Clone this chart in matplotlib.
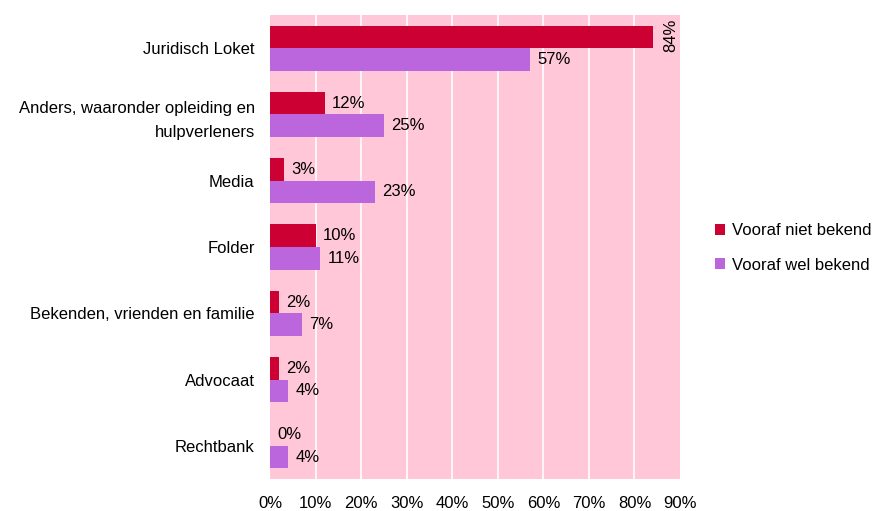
import matplotlib
matplotlib.use('Agg')
import matplotlib.pyplot as plt
import numpy as np

plt.rcParams['font.family'] = ['Liberation Sans', 'DejaVu Sans']

categories = ['Juridisch Loket', 'Anders, waaronder opleiding en\nhulpverleners', 'Media',
              'Folder', 'Bekenden, vrienden en familie', 'Advocaat', 'Rechtbank']
niet_bekend = [84, 12, 3, 10, 2, 2, 0]
wel_bekend = [57, 25, 23, 11, 7, 4, 4]
series_names = ['Vooraf niet bekend', 'Vooraf wel bekend']
xticks = [0, 10, 20, 30, 40, 50, 60, 70, 80, 90]

RED = '#CC0033'
PURPLE = '#BB66DD'
PINK = '#FFC7D8'
FS = 12

fig = plt.figure(figsize=(8.73, 5.11), dpi=100)
ax = fig.add_axes([270 / 873, 1 - 479 / 511, 410 / 873, 464 / 511])
ax.set_facecolor(PINK)

y = np.arange(len(categories))
h = 0.34
ax.barh(y - h / 2, niet_bekend, height=h, color=RED, label=series_names[0], zorder=3)
ax.barh(y + h / 2, wel_bekend, height=h, color=PURPLE, label=series_names[1], zorder=3)

for xv in xticks[1:-1]:
    ax.axvline(xv, color='white', linewidth=1.2, zorder=1)

ax.set_xlim(0, 90)
ax.set_ylim(len(categories) - 0.5, -0.5)
ax.set_yticks(y)
ax.set_yticklabels(categories, fontsize=FS, linespacing=1.75)
ax.set_xticks(xticks)
ax.set_xticklabels([f'{v}%' for v in xticks], fontsize=FS)
ax.tick_params(axis='y', length=0, pad=11)
ax.tick_params(axis='x', length=0, pad=12)
for s in ax.spines.values():
    s.set_visible(False)

for i, (a, b) in enumerate(zip(niet_bekend, wel_bekend)):
    if a > 80:
        ax.text(a + 4, i - h / 2 - 0.02, f'{a}%', rotation=90, fontsize=FS,
                ha='center', va='center', zorder=4, clip_on=False)
    else:
        ax.text(a + 1.6, i - h / 2, f'{a}%', fontsize=FS, ha='left', va='center', zorder=4)
    ax.text(b + 1.6, i + h / 2, f'{b}%', fontsize=FS, ha='left', va='center', zorder=4)

handles, labels = ax.get_legend_handles_labels()
fig.legend(handles, labels, loc='center left', bbox_to_anchor=(700 / 873, 1 - 248 / 511),
           frameon=False, fontsize=FS, handlelength=0.6, handleheight=0.6,
           handletextpad=0.45, labelspacing=1.15)

fig.savefig('out.png', dpi=100)
